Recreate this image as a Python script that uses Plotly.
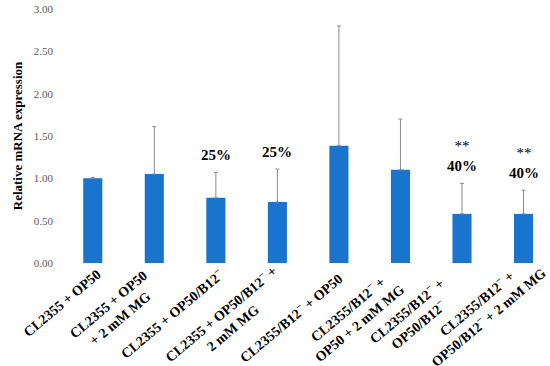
import plotly.graph_objects as go

categories = [
    "CL2355 + OP50",
    "CL2355 + OP50<br>+ 2 mM MG",
    "CL2355 + OP50/B12<sup>−</sup>",
    "CL2355 + OP50/B12<sup>−</sup> +<br>2 mM MG",
    "CL2355/B12<sup>−</sup> + OP50",
    "CL2355/B12<sup>−</sup> +<br>OP50 + 2 mM MG",
    "CL2355/B12<sup>−</sup> +<br>OP50/B12<sup>−</sup>",
    "CL2355/B12<sup>−</sup> +<br>OP50/B12<sup>−</sup> + 2 mM MG",
]
values = [1.00, 1.05, 0.77, 0.72, 1.385, 1.10, 0.58, 0.58]
errors = [0.01, 0.56, 0.30, 0.39, 1.415, 0.60, 0.36, 0.28]
y_ticks = [0.0, 0.5, 1.0, 1.5, 2.0, 2.5, 3.0]
y_ticklabels = ["0.00", "0.50", "1.00", "1.50", "2.00", "2.50", "3.00"]

ann_idx = [2, 3, 6, 7]
ann_text = ["<b>25%</b>", "<b>25%</b>", "**<br><b>40%</b>", "**<br><b>40%</b>"]

x = list(range(len(categories)))
serif = "Liberation Serif"

# pixel offsets of each rotated category label's centre from its tick (layout only)
label_dx = [-31, -40, -44, -51, -48, -47, -50, -42]
label_dy = [40, 48, 50, 57, 54, 52, 54, 47]

fig = go.Figure()
fig.add_trace(go.Bar(
    x=x, y=values, width=0.31,
    marker=dict(color="#1874CD", line=dict(width=0)),
    error_y=dict(type="data", array=errors, arrayminus=[0] * len(errors),
                 symmetric=False, color="#8c8c8c", thickness=1, width=2),
))

for i, t in zip(ann_idx, ann_text):
    fig.add_annotation(x=i, y=values[i] + errors[i], text=t, showarrow=False,
                       yanchor="bottom", yshift=7,
                       font=dict(family=serif, size=15, color="black"))

for i, c in enumerate(categories):
    txt = "<b>" + c.replace("<br>", "</b><br><b>") + "</b>"
    fig.add_annotation(x=i, y=0, xref="x", yref="y", text=txt, showarrow=False,
                       textangle=-40, align="center",
                       xanchor="center", yanchor="middle",
                       xshift=label_dx[i], yshift=-label_dy[i],
                       font=dict(family=serif, size=14, color="black"))

fig.update_layout(
    width=550, height=366,
    margin=dict(l=62, r=0, t=9, b=103),
    plot_bgcolor="white", paper_bgcolor="white",
    showlegend=False,
    font=dict(family=serif),
    xaxis=dict(range=[-0.5, 7.43], tickvals=x, showticklabels=False,
               showline=False, showgrid=False, ticks="", automargin=False),
    yaxis=dict(range=[0, 3.0], tickvals=y_ticks, ticktext=y_ticklabels,
               tickfont=dict(family=serif, size=11, color="#595959"),
               ticklabelstandoff=8,
               showgrid=False, showline=False, zeroline=False, ticks="", automargin=False,
               title=dict(text="<b>Relative mRNA expression</b>",
                          font=dict(family=serif, size=13, color="black"), standoff=8)),
)

fig.write_html("out.html", config={"displayModeBar": False},
               post_script="document.body.style.margin='0';document.body.style.overflow='hidden';")
